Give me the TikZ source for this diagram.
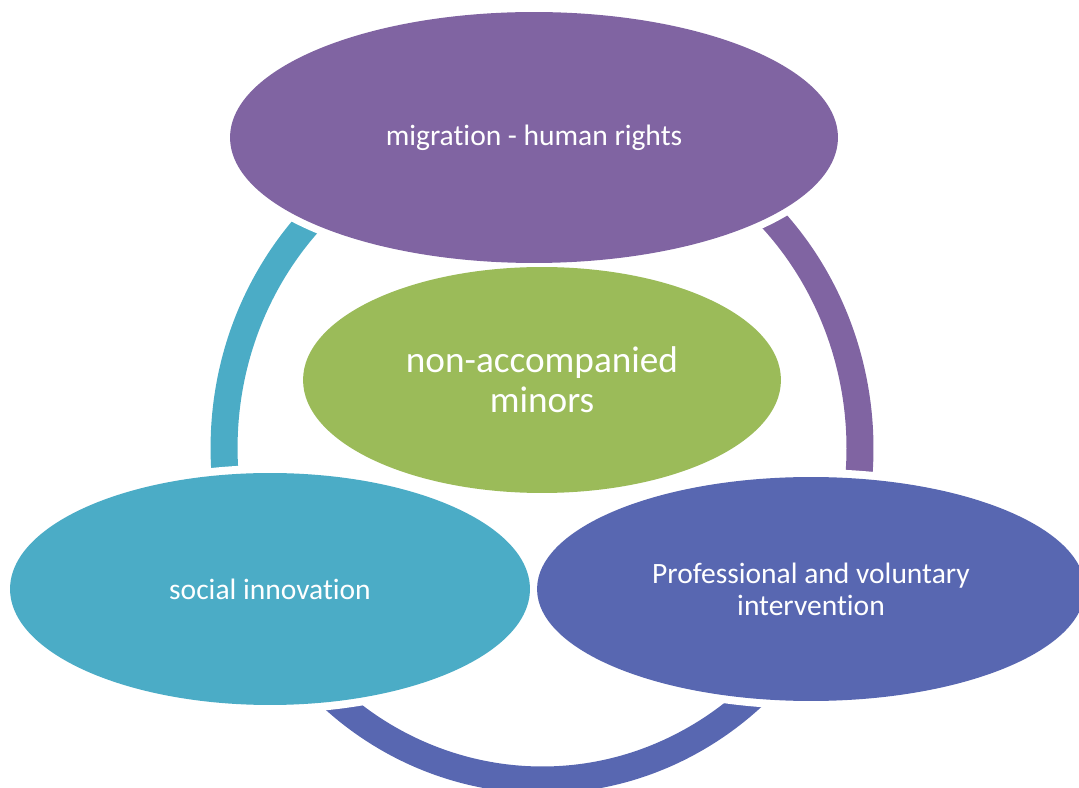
\documentclass[tikz,border=0pt]{standalone}
\usepackage{fontspec}
\setmainfont{Carlito}[Ligatures=NoCommon]
\usetikzlibrary{shapes.geometric}

\definecolor{rimpurple}{HTML}{8064A2}
\definecolor{coregreen}{HTML}{9BBB59}
\definecolor{rimteal}{HTML}{4BACC6}
\definecolor{rimblue}{HTML}{5867B1}

\tikzset{
    bubble/.style={ellipse, inner sep=0pt, text=white, align=center,
        font=\fontsize{16.8}{18.1}\selectfont},
    halo/.style={fill=white},
    rim/.style={line width=0.54cm},
}

\begin{document}
\begin{tikzpicture}[x=0.02cm, y=0.02cm]

    \useasboundingbox (0,0) rectangle (1079,788);

    % Centres of the bubbles and of the ring
    \coordinate (ctop) at (534,650.5);
    \coordinate (ccore) at (542,408);
    \coordinate (cleft) at (270,199);
    \coordinate (cright) at (811,199);
    \coordinate (ring) at (542,340);

    % Ring round the core, in three parts
    \draw[rim, rimteal] (ring) ++(90:6.36cm and 6.64cm)
        arc [start angle=90, end angle=210, x radius=6.36cm, y radius=6.64cm];
    \draw[rim, rimblue] (ring) ++(210:6.36cm and 6.64cm)
        arc [start angle=210, end angle=330, x radius=6.36cm, y radius=6.64cm];
    \draw[rim, rimpurple] (ring) ++(330:6.36cm and 6.64cm)
        arc [start angle=330, end angle=450, x radius=6.36cm, y radius=6.64cm];

    % White gaps round the outer bubbles
    \fill[halo] (ctop) ellipse [x radius=6.24cm, y radius=2.67cm];
    \fill[halo] (cleft) ellipse [x radius=5.36cm, y radius=2.48cm];
    \fill[halo] (cright) ellipse [x radius=5.66cm, y radius=2.40cm];

    % Bubbles
    \node[bubble, fill=rimpurple, minimum width=12.16cm, minimum height=5.02cm]
        (rights) at (ctop) {migration - human rights};
    \node[bubble, fill=coregreen, minimum width=9.56cm, minimum height=4.52cm,
        font=\fontsize{21.2}{22.9}\selectfont]
        (minors) at (ccore) {non-accompanied\\minors};
    \node[bubble, fill=rimteal, minimum width=10.4cm, minimum height=4.64cm]
        (innovation) at (cleft) {social innovation};
    \node[bubble, fill=rimblue, minimum width=10.96cm, minimum height=4.48cm]
        (intervention) at (cright) {Professional and voluntary\\intervention};

\end{tikzpicture}
\end{document}
